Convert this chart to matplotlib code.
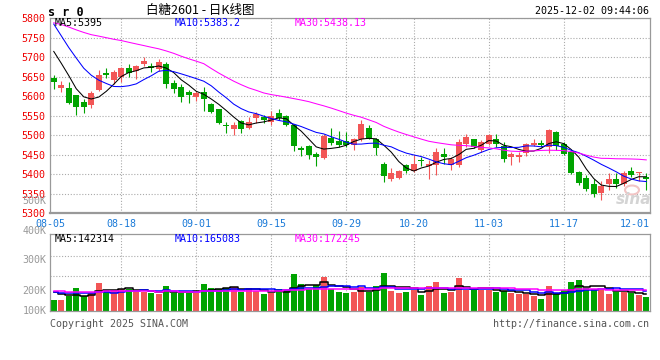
import matplotlib
matplotlib.use('Agg')
import matplotlib.pyplot as plt
import numpy as np

# ---------------- data ----------------
tick_labels = ['08-05', '08-18', '09-01', '09-15', '09-29', '10-20', '11-03', '11-17', '12-01']
tick_idx = [0, 9, 19, 29, 39, 48, 58, 68, 78]

opens = [5647, 5621, 5620, 5602, 5584, 5576, 5616, 5660, 5642, 5650,
         5671, 5664, 5682, 5677, 5670, 5682, 5633, 5623, 5610, 5598,
         5610, 5579, 5566, 5527, 5517, 5536, 5519, 5544, 5546, 5535,
         5557, 5549, 5527, 5467, 5472, 5451, 5442, 5493, 5484, 5484,
         5476, 5489, 5519, 5489, 5427, 5387, 5391, 5423, 5409, 5437,
         5421, 5423, 5453, 5423, 5423, 5477, 5489, 5461, 5478, 5491,
         5472, 5443, 5444, 5455, 5474, 5480, 5470, 5508, 5478, 5457,
         5406, 5391, 5375, 5353, 5376, 5387, 5376, 5408, 5404, 5393]
highs = [5653, 5638, 5635, 5603, 5593, 5613, 5667, 5672, 5667, 5674,
         5683, 5680, 5701, 5684, 5696, 5688, 5640, 5630, 5615, 5612,
         5623, 5583, 5566, 5535, 5535, 5540, 5546, 5560, 5551, 5563,
         5568, 5552, 5529, 5472, 5476, 5457, 5504, 5518, 5511, 5508,
         5493, 5540, 5525, 5492, 5431, 5415, 5410, 5427, 5449, 5444,
         5436, 5466, 5466, 5444, 5491, 5502, 5491, 5487, 5504, 5504,
         5483, 5457, 5457, 5480, 5489, 5487, 5515, 5511, 5483, 5460,
         5409, 5398, 5389, 5383, 5402, 5402, 5409, 5419, 5405, 5402]
lows = [5619, 5610, 5580, 5552, 5558, 5570, 5612, 5647, 5630, 5636,
        5650, 5643, 5678, 5663, 5665, 5621, 5609, 5585, 5582, 5587,
        5563, 5557, 5528, 5506, 5500, 5506, 5515, 5530, 5532, 5527,
        5538, 5523, 5459, 5447, 5440, 5421, 5440, 5474, 5470, 5470,
        5461, 5485, 5489, 5449, 5381, 5383, 5388, 5402, 5405, 5421,
        5389, 5398, 5427, 5412, 5419, 5470, 5466, 5457, 5474, 5470,
        5432, 5423, 5432, 5447, 5472, 5470, 5455, 5463, 5449, 5400,
        5372, 5358, 5341, 5334, 5359, 5364, 5370, 5393, 5383, 5359]
closes = [5636, 5629, 5582, 5572, 5572, 5608, 5654, 5655, 5663, 5671,
          5659, 5677, 5691, 5671, 5688, 5632, 5619, 5599, 5603, 5609,
          5593, 5559, 5531, 5524, 5525, 5517, 5535, 5555, 5538, 5549,
          5544, 5525, 5472, 5461, 5449, 5443, 5497, 5481, 5474, 5476,
          5491, 5528, 5491, 5467, 5395, 5402, 5408, 5409, 5427, 5434,
          5427, 5457, 5444, 5440, 5483, 5495, 5470, 5483, 5500, 5478,
          5440, 5451, 5449, 5477, 5480, 5475, 5512, 5472, 5453, 5404,
          5378, 5361, 5349, 5370, 5387, 5376, 5402, 5398, 5405, 5387]
# closes of the 29 sessions before the window (estimated from the MA curves)
prior_closes = [5760, 5775, 5790, 5770, 5780, 5765, 5775, 5785, 5770,
                5790, 5805, 5815, 5800, 5810, 5795, 5805, 5820, 5800, 5790, 5786,
                5929, 5882, 5842, 5832, 5788, 5780, 5740, 5740, 5676]

volumes = [90, 90, 127, 193, 127, 147, 232, 175, 175, 184,
           180, 160, 160, 149, 138, 208, 151, 151, 151, 151,
           223, 193, 182, 193, 201, 160, 193, 166, 140, 147,
           182, 171, 307, 223, 182, 215, 283, 186, 155, 149,
           158, 197, 160, 208, 315, 166, 149, 158, 175, 134,
           208, 241, 149, 158, 274, 175, 175, 175, 175, 158,
           166, 149, 140, 140, 127, 99, 208, 149, 175, 241,
           256, 193, 182, 175, 140, 158, 158, 149, 134, 116]  # thousands
prior_volumes = [170, 160, 175, 165, 168, 172, 160, 170, 165, 168,
                 162, 175, 170, 160, 168, 165, 170, 166, 168, 163,
                 165, 155, 160, 162, 158, 180, 175, 185, 170]

price_ma_text = ['MA5:5395', 'MA10:5383.2', 'MA30:5438.13']
vol_ma_text = ['MA5:142314', 'MA10:165083', 'MA30:172245']
vol_label_text = ['100K', '200K', '300K', '400K', '500K']

# ---------------- style ----------------
RED = '#f25656'
GREEN = '#00a300'
MA_COLORS = ['black', '#0000ff', '#ff00ff']
GRID = '#aaaaaa'
SPINE = '#999999'
MONO = 'DejaVu Sans Mono'
CJK = ['Noto Sans CJK SC', 'DejaVu Sans']

W, H = 660, 360
fig = plt.figure(figsize=(W / 100, H / 100), dpi=100)
fig.patch.set_facecolor('white')


def rect(l, t, r, b):
    return [l / W, 1 - b / H, (r - l) / W, (b - t) / H]


def ftext(x, y, s, **kw):
    kw.setdefault('family', MONO)
    kw.setdefault('fontsize', 7.2)
    kw.setdefault('va', 'center')
    fig.text(x / W, 1 - y / H, s, **kw)


ax = fig.add_axes(rect(50, 18, 650, 213.3))
axv = fig.add_axes(rect(50, 234, 650, 311))

o = np.array(opens, float)
h = np.array(highs, float)
l = np.array(lows, float)
c = np.array(closes, float)
v = np.array(volumes, float) * 1000
n = len(c)
x = np.arange(n)
cols = np.where(c >= o, RED, GREEN)

# grids
for a in (ax, axv):
    for t in tick_idx[1:-1]:
        a.axvline(t, color=GRID, lw=0.8, linestyle=(0, (1, 1.6)), zorder=0)
ax.set_yticks(np.arange(5300, 5801, 50))
ax.grid(axis='y', color=GRID, lw=0.8, linestyle=(0, (1, 1.6)), zorder=0)

# candles
ax.vlines(x, l, h, colors=cols, lw=0.8, zorder=2)
bh = np.maximum(np.abs(c - o), 2.6)
ax.bar(x, bh, bottom=np.minimum(o, c), width=0.8, color=cols, linewidth=0, zorder=3)

# price MAs
allc = np.concatenate([prior_closes, c])
for k, col in zip((5, 10, 30), MA_COLORS):
    ma = np.convolve(allc, np.ones(k) / k, 'valid')[-n:]
    ax.plot(x, ma, color=col, lw=0.75, zorder=4)

ax.set_xlim(-0.5, n - 0.5)
ax.set_ylim(5300, 5800)
ax.set_yticklabels([f'{int(t)}' for t in ax.get_yticks()], family=MONO, fontsize=7.2, color='#ee0000')
ax.tick_params(axis='y', length=0, pad=3.5)
ax.set_xticks([tick_idx[0] - 0.5] + tick_idx[1:-1] + [n - 0.5])
ax.set_xticklabels(tick_labels, family=MONO, fontsize=7.2, color='#1a7ad8')
ax.tick_params(axis='x', length=0, pad=4)
xl = ax.get_xticklabels()
xl[-1].set_ha('right')
for sp in ax.spines.values():
    sp.set_color(SPINE)
    sp.set_linewidth(0.9)
ax.spines['bottom'].set_linewidth(1.6)

# volume
axv.bar(x, v, width=0.8, color=cols, linewidth=0, zorder=2)
allv = np.concatenate([np.array(prior_volumes, float) * 1000, v])
for k, col in zip((5, 10, 30), MA_COLORS):
    ma = np.convolve(allv, np.ones(k) / k, 'valid')[-n:]
    axv.plot(x, ma, color=col, lw=1.1, drawstyle='steps-mid', zorder=4)
vtop = 639000
axv.set_xlim(-0.5, n - 0.5)
axv.set_ylim(0, vtop)
for frac in (0.455, 0.714):
    axv.axhline(frac * vtop, color=GRID, lw=0.8, linestyle=(0, (1, 1.6)), zorder=0)
axv.set_xticks([])
axv.set_yticks([])
for sp in axv.spines.values():
    sp.set_color(SPINE)
    sp.set_linewidth(0.9)
for s, frac in zip(vol_label_text, (0.0, 0.26, 0.66, 1.04, 1.43)):
    axv.text(-0.006, frac, s, transform=axv.transAxes, ha='right', va='center',
             family=MONO, fontsize=7.2, color='#999999', clip_on=False)

# legends
for s, xx, col in zip(price_ma_text, (55, 175, 295), MA_COLORS):
    ftext(xx, 23.5, s, color=col)
for s, xx, col in zip(vol_ma_text, (55, 175, 295), MA_COLORS):
    ftext(xx, 239, s, color=col)

# header / footer
ftext(48, 12, 's r 0', fontsize=8.5, weight='bold', color='black')
ftext(200, 10, '白糖2601 - 日K线图', family=CJK, fontsize=9, ha='center', color='black')
ftext(649, 11.5, '2025-12-02 09:44:06', ha='right', color='black')
ftext(50, 324, 'Copyright 2025 SINA.COM', color='#555555')
ftext(649, 324, 'http://finance.sina.com.cn', ha='right', color='#555555')
# sina watermark
fig.add_artist(matplotlib.patches.Ellipse((632 / W, 1 - 190 / H), 14 / W, 9 / H,
                                          facecolor='none', edgecolor='#f2c4c4', lw=1.5))
ftext(634, 200, 'sina', fontsize=11, family='DejaVu Sans', style='italic', weight='bold',
      ha='center', color='#d4d4d4')

fig.savefig('out.png', dpi=100, facecolor='white')
